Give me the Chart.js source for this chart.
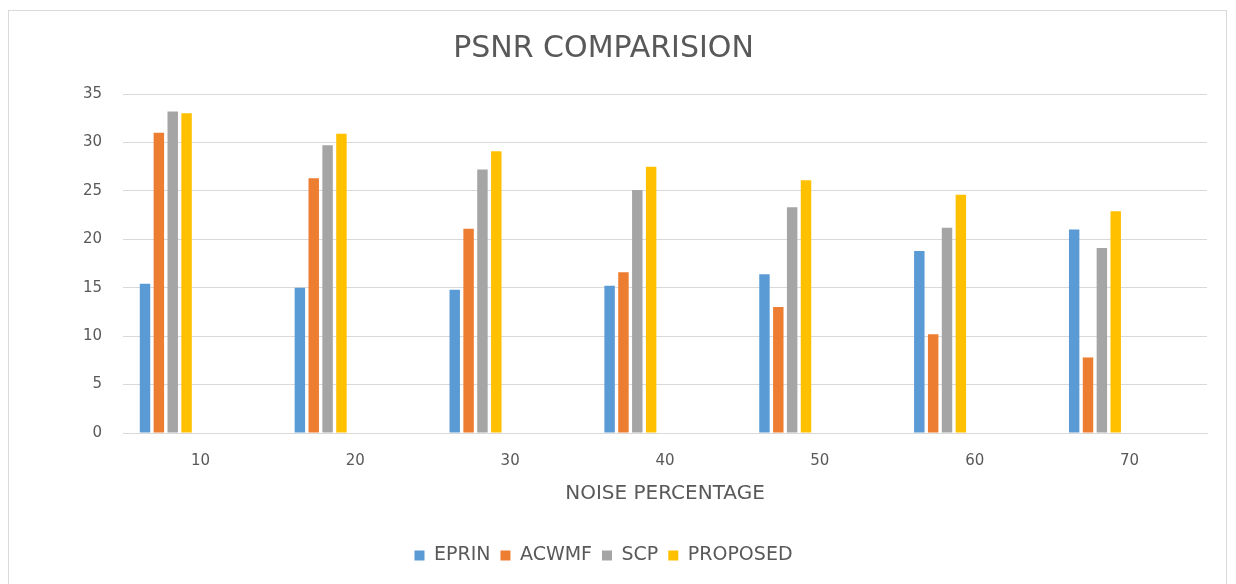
<!DOCTYPE html>
<html>
<head>
<meta charset="utf-8">
<script src="https://cdn.jsdelivr.net/npm/chart.js@4.4.1/dist/chart.umd.min.js"></script>
<style>
  html, body { margin: 0; padding: 0; background: #ffffff; }
  #wrap { position: absolute; left: 0; top: 0; width: 1236px; height: 584px; overflow: hidden; }
  #frame { position: absolute; left: 8px; top: 10px; width: 1219px; height: 600px;
           border: 1px solid #d9d9d9; box-sizing: border-box; }
  #c { position: absolute; left: 0; top: 0; }
</style>
</head>
<body>
<div id="wrap">
  <div id="frame"></div>
  <canvas id="c" width="1236" height="584"></canvas>
</div>
<script>
// Noise percentage categories and PSNR (dB) per method
const noiseLevels = ['10', '20', '30', '40', '50', '60', '70'];
const eprin    = [15.4, 15.0, 14.8, 15.2, 16.4, 18.8, 21.0];
const acwmf    = [31.0, 26.3, 21.1, 16.6, 13.0, 10.2, 7.8];
const scp      = [33.2, 29.7, 27.2, 25.1, 23.3, 21.2, 19.1];
const proposed = [33.0, 30.9, 29.1, 27.5, 26.1, 24.6, 22.9];
const yTicks   = [0, 5, 10, 15, 20, 25, 30, 35];

const TEXT = '#595959';
const GRID = '#d9d9d9';
const FONT = "'DejaVu Sans', sans-serif";

// Each category keeps room for five unused slots to the right of the four bars
const emptySlots = 5;
const BAR_PCT = 0.754;
const CAT_PCT = 0.805;

const series = [
  { label: 'EPRIN',    data: eprin,    color: '#5B9BD5' },
  { label: 'ACWMF',    data: acwmf,    color: '#ED7D31' },
  { label: 'SCP',      data: scp,      color: '#A5A5A5' },
  { label: 'PROPOSED', data: proposed, color: '#FFC000' }
];

const datasets = series.map(s => ({
  label: s.label,
  data: s.data,
  backgroundColor: s.color,
  borderWidth: 0,
  barPercentage: BAR_PCT,
  categoryPercentage: CAT_PCT
}));
for (let i = 0; i < emptySlots; i++) {
  datasets.push({
    label: '',
    data: noiseLevels.map(() => null),
    backgroundColor: 'rgba(0,0,0,0)',
    barPercentage: BAR_PCT,
    categoryPercentage: CAT_PCT
  });
}

new Chart(document.getElementById('c'), {
  type: 'bar',
  data: { labels: noiseLevels, datasets },
  options: {
    responsive: false,
    animation: false,
    layout: { padding: { left: 0, right: 29, top: 0, bottom: 9 } },
    plugins: {
      title: {
        display: true,
        text: 'PSNR COMPARISION',
        color: TEXT,
        font: { family: FONT, size: 30, weight: 'normal' },
        padding: { top: 31, bottom: 27 }
      },
      legend: {
        position: 'bottom',
        labels: {
          color: TEXT,
          boxWidth: 10,
          boxHeight: 10,
          padding: 10,
          font: { family: FONT, size: 19 },
          filter: item => item.text !== ''
        }
      },
      tooltip: { enabled: false }
    },
    scales: {
      x: {
        grid: { display: false, drawTicks: false },
        border: { display: true, color: GRID, width: 1 },
        ticks: { color: TEXT, font: { family: FONT, size: 15 }, padding: 19 },
        title: {
          display: true,
          text: 'NOISE PERCENTAGE',
          color: TEXT,
          font: { family: FONT, size: 20 },
          padding: { top: -7, bottom: 30 }
        }
      },
      y: {
        min: 0,
        max: 35,
        afterBuildTicks: scale => { scale.ticks = yTicks.map(v => ({ value: v })); },
        afterFit: scale => { scale.width = 123; },
        grid: { color: GRID, drawTicks: false },
        border: { display: false },
        ticks: { color: TEXT, font: { family: FONT, size: 15 }, padding: 21 }
      }
    }
  }
});
</script>
</body>
</html>
